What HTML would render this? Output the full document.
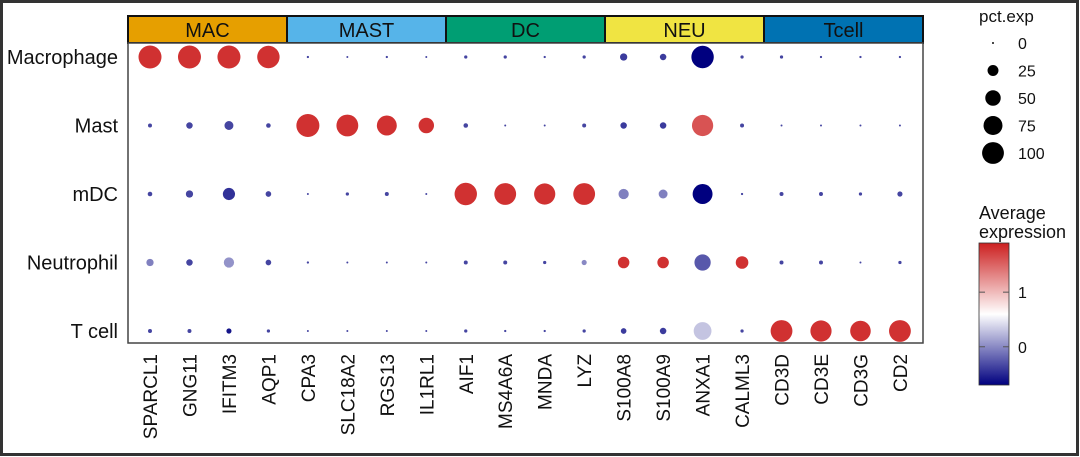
<!DOCTYPE html>
<html><head><meta charset="utf-8">
<style>
html,body{margin:0;padding:0;background:#fff;}
svg{display:block;font-family:"Liberation Sans",Arial,sans-serif;}
</style></head>
<body>
<svg id="chart" width="1080" height="457" viewBox="0 0 1080 457">
<defs>
<linearGradient id="grad" x1="0" y1="1" x2="0" y2="0">
<stop offset="0" stop-color="#00007f"/>
<stop offset="0.5" stop-color="#ffffff"/>
<stop offset="1" stop-color="#cc2020"/>
</linearGradient>
</defs>
<rect x="1.5" y="1.5" width="1076" height="453" fill="none" stroke="#333" stroke-width="3"/>
<g id="header"></g>
<rect x="128" y="43" width="795" height="300" fill="#fff" stroke="#444" stroke-width="1.5"/>
<g id="dots"></g>
<g id="ylabels"></g>
<g id="xlabels"></g>
<g id="legend">
<text x="979" y="22" font-size="17" fill="#111">pct.exp</text>
<text x="979" y="219" font-size="18" fill="#111">Average</text>
<text x="979" y="238" font-size="18" fill="#111">expression</text>
<rect x="979" y="243" width="30" height="142" fill="url(#grad)" stroke="#333" stroke-width="0.8"/>
</g>
</svg>
<script>
const genes=["SPARCL1","GNG11","IFITM3","AQP1","CPA3","SLC18A2","RGS13","IL1RL1","AIF1","MS4A6A","MNDA","LYZ","S100A8","S100A9","ANXA1","CALML3","CD3D","CD3E","CD3G","CD2"];
const cellTypes=["Macrophage","Mast","mDC","Neutrophil","T cell"];
const groups=["MAC","MAST","DC","NEU","Tcell"];
const groupColors=["#e69f00","#56b4e9","#009e73","#f0e442","#0072b2"];
const pct=[
[100,100,100,95, 1,0.5,1,0.5, 2,2,1,2, 10,8,95,2, 2,1,1,1],
[3,8,15,4, 100,90,75,45, 4,0.5,0.5,3, 8,8,85,3, 0.5,0.5,0.5,0.5],
[4,10,28,6, 0.5,2,3,0.5, 95,90,85,90, 20,15,75,1, 3,3,2,5],
[10,8,20,6, 1,0.5,0.5,0.5, 3,3,2,5, 25,25,50,30, 3,3,0.5,2],
[3,3,5,2, 0.5,0.5,0.5,0.5, 2,1,1,2, 6,8,60,2, 90,85,80,90]];
const avgExp=[
[1.8,1.8,1.8,1.8, -0.35,-0.35,-0.35,-0.35, -0.35,-0.35,-0.35,-0.35, -0.4,-0.4,-0.7,-0.35, -0.35,-0.35,-0.35,-0.35],
[-0.35,-0.35,-0.35,-0.35, 1.8,1.8,1.8,1.8, -0.35,-0.35,-0.35,-0.35, -0.4,-0.4,1.6,-0.35, -0.35,-0.35,-0.35,-0.35],
[-0.35,-0.35,-0.45,-0.35, -0.35,-0.35,-0.35,-0.35, 1.8,1.8,1.8,1.8, -0.05,-0.05,-0.7,-0.35, -0.35,-0.35,-0.35,-0.35],
[-0.05,-0.35,0.05,-0.35, -0.35,-0.35,-0.35,-0.35, -0.35,-0.35,-0.35,0.0, 1.8,1.8,-0.25,1.8, -0.35,-0.35,-0.35,-0.35],
[-0.35,-0.35,-0.6,-0.35, -0.35,-0.35,-0.35,-0.35, -0.35,-0.35,-0.35,-0.35, -0.4,-0.4,0.3,-0.35, 1.8,1.8,1.8,1.8]];
const sizeLegendValues=[0,25,50,75,100];
const colorTicks=[0,1];

const NS="http://www.w3.org/2000/svg";
const xPos=i=>150+i*39.47;
const yPos=j=>57+j*68.5;
const rScale=p=>Math.max(1,11.5*Math.sqrt(p/100));
const expMin=-0.7, expMax=1.9;
const barTop=243, barBot=385;
const expY=v=>barBot-(v-expMin)/(expMax-expMin)*(barBot-barTop);
function lerp(a,b,t){return a.map((x,i)=>Math.round(x+(b[i]-x)*t));}
function col(v){
  let t=(v-expMin)/(expMax-expMin); t=Math.max(0,Math.min(1,t));
  const lo=[0,0,127],mid=[255,255,255],hi=[204,32,32];
  const c=t<0.5?lerp(lo,mid,t/0.5):lerp(mid,hi,(t-0.5)/0.5);
  return `rgb(${c[0]},${c[1]},${c[2]})`;
}
function mk(tag,attrs,parent){const e=document.createElementNS(NS,tag);for(const k in attrs)e.setAttribute(k,attrs[k]);parent.appendChild(e);return e;}

const hdr=document.getElementById('header');
groups.forEach((g,k)=>{
  const x0=128+k*159;
  const r=mk('rect',{x:x0,y:16,width:159,height:27,fill:groupColors[k],stroke:'#111','stroke-width':2},hdr);
  
  
  const t=mk('text',{x:x0+79.5,y:37,'text-anchor':'middle','font-size':20,fill:'#111'},hdr);
  t.textContent=g;
  
  
});

const dg=document.getElementById('dots');
cellTypes.forEach((c,j)=>{
  genes.forEach((g,i)=>{
    const d=mk('circle',{cx:xPos(i),cy:yPos(j),r:rScale(pct[j][i]),fill:col(avgExp[j][i])},dg);
    
    
  });
  const t=mk('text',{x:118,y:yPos(j)+7,'text-anchor':'end','font-size':20,fill:'#111'},document.getElementById('ylabels'));
  t.textContent=c;
  
  
});

const xl=document.getElementById('xlabels');
genes.forEach((g,i)=>{
  const t=mk('text',{x:0,y:0,'text-anchor':'end','font-size':19,fill:'#111',transform:`translate(${xPos(i)+7},354) rotate(-90)`},xl);
  t.textContent=g;
  
  
});

const lg=document.getElementById('legend');
sizeLegendValues.forEach((v,k)=>{
  const y=43+k*27.5;
  const c=mk('circle',{cx:993,cy:y,r:Math.max(0.8,rScale(v)*0.95),fill:'#000'},lg);
  
  
  const t=mk('text',{x:1018,y:y+6,'font-size':16,fill:'#111'},lg);
  t.textContent=v;
  
  
});
colorTicks.forEach(v=>{
  const y=expY(v);
  const l1=mk('line',{x1:979,x2:985,y1:y,y2:y,stroke:'#555','stroke-width':1},lg);
  
  
  const l2=mk('line',{x1:1003,x2:1009,y1:y,y2:y,stroke:'#555','stroke-width':1},lg);
  
  
  const t=mk('text',{x:1018,y:y+6,'font-size':16,fill:'#111'},lg);
  t.textContent=v;
  
  
});
</script>
</body></html>
